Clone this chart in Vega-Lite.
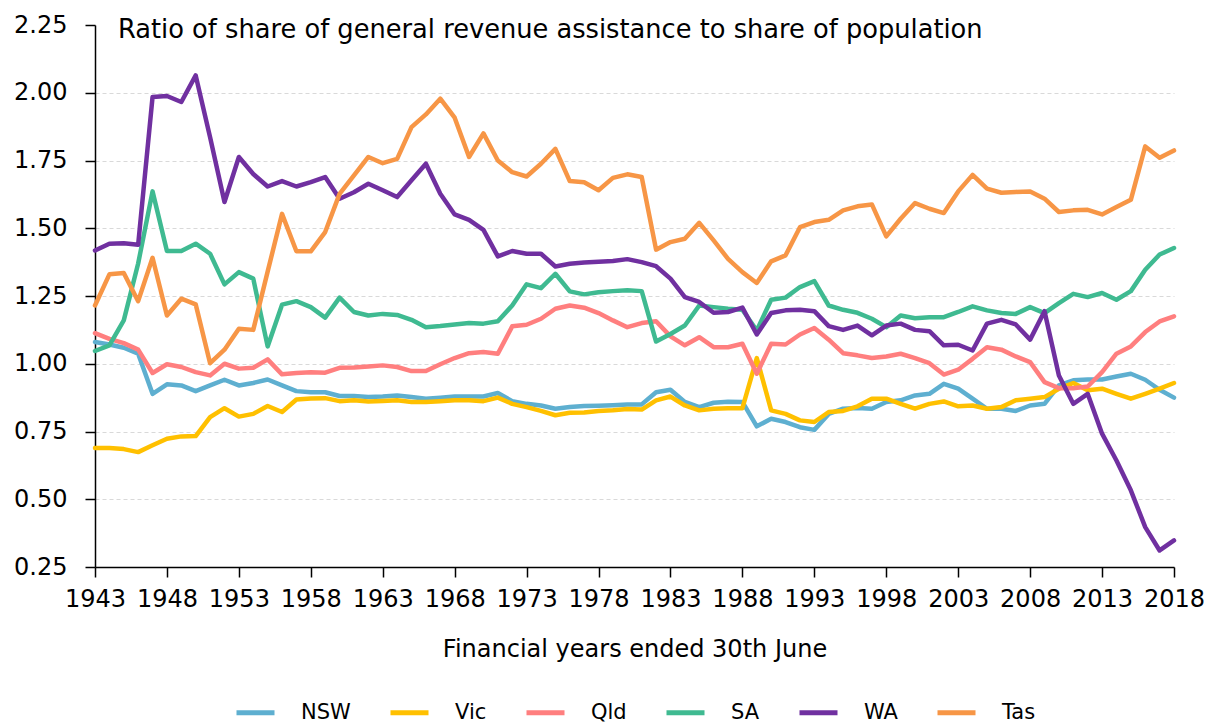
{
  "$schema": "https://vega.github.io/schema/vega-lite/v6.json",
  "width": 1079,
  "height": 542,
  "autosize": "none",
  "padding": {"left": 95, "top": 25, "right": 34, "bottom": 158},
  "background": "white",
  "title": {
    "text": "Ratio of share of general revenue assistance to share of population",
    "anchor": "start",
    "frame": "group",
    "orient": "top",
    "offset": -31,
    "dx": 23,
    "baseline": "top",
    "fontSize": 25.7,
    "fontWeight": "normal",
    "font": "DejaVu Sans",
    "color": "#000000"
  },
  "config": {
    "view": {"stroke": null},
    "font": "DejaVu Sans",
    "axis": {"labelFont": "DejaVu Sans", "titleFont": "DejaVu Sans"},
    "legend": {"labelFont": "DejaVu Sans", "layout": {"bottom": {"anchor": "middle"}}}
  },
  "data": {
    "values": [
      {"year":1943,"NSW":1.08,"Vic":0.689,"Qld":1.113,"SA":1.047,"WA":1.418,"Tas":1.215},
      {"year":1944,"NSW":1.071,"Vic":0.689,"Qld":1.092,"SA":1.068,"WA":1.443,"Tas":1.33},
      {"year":1945,"NSW":1.059,"Vic":0.685,"Qld":1.076,"SA":1.16,"WA":1.445,"Tas":1.335},
      {"year":1946,"NSW":1.037,"Vic":0.674,"Qld":1.052,"SA":1.37,"WA":1.439,"Tas":1.231},
      {"year":1947,"NSW":0.889,"Vic":0.699,"Qld":0.966,"SA":1.636,"WA":1.984,"Tas":1.391},
      {"year":1948,"NSW":0.924,"Vic":0.723,"Qld":0.998,"SA":1.416,"WA":1.988,"Tas":1.178},
      {"year":1949,"NSW":0.92,"Vic":0.732,"Qld":0.988,"SA":1.416,"WA":1.966,"Tas":1.24},
      {"year":1950,"NSW":0.899,"Vic":0.733,"Qld":0.969,"SA":1.443,"WA":2.064,"Tas":1.219},
      {"year":1951,"NSW":0.92,"Vic":0.803,"Qld":0.957,"SA":1.406,"WA":1.836,"Tas":1.002},
      {"year":1952,"NSW":0.941,"Vic":0.836,"Qld":1.0,"SA":1.293,"WA":1.597,"Tas":1.052},
      {"year":1953,"NSW":0.92,"Vic":0.805,"Qld":0.982,"SA":1.338,"WA":1.763,"Tas":1.129},
      {"year":1954,"NSW":0.929,"Vic":0.815,"Qld":0.985,"SA":1.314,"WA":1.7,"Tas":1.125},
      {"year":1955,"NSW":0.942,"Vic":0.844,"Qld":1.016,"SA":1.064,"WA":1.654,"Tas":1.34},
      {"year":1956,"NSW":0.92,"Vic":0.822,"Qld":0.961,"SA":1.218,"WA":1.674,"Tas":1.553},
      {"year":1957,"NSW":0.899,"Vic":0.868,"Qld":0.966,"SA":1.231,"WA":1.654,"Tas":1.415},
      {"year":1958,"NSW":0.895,"Vic":0.872,"Qld":0.969,"SA":1.209,"WA":1.67,"Tas":1.415},
      {"year":1959,"NSW":0.895,"Vic":0.873,"Qld":0.967,"SA":1.17,"WA":1.689,"Tas":1.486},
      {"year":1960,"NSW":0.881,"Vic":0.862,"Qld":0.985,"SA":1.244,"WA":1.609,"Tas":1.627},
      {"year":1961,"NSW":0.881,"Vic":0.865,"Qld":0.986,"SA":1.191,"WA":1.633,"Tas":1.695},
      {"year":1962,"NSW":0.877,"Vic":0.861,"Qld":0.99,"SA":1.178,"WA":1.664,"Tas":1.763},
      {"year":1963,"NSW":0.879,"Vic":0.863,"Qld":0.994,"SA":1.184,"WA":1.64,"Tas":1.74},
      {"year":1964,"NSW":0.883,"Vic":0.865,"Qld":0.988,"SA":1.18,"WA":1.615,"Tas":1.756},
      {"year":1965,"NSW":0.877,"Vic":0.859,"Qld":0.973,"SA":1.162,"WA":1.677,"Tas":1.873},
      {"year":1966,"NSW":0.871,"Vic":0.859,"Qld":0.973,"SA":1.135,"WA":1.738,"Tas":1.92},
      {"year":1967,"NSW":0.875,"Vic":0.862,"Qld":0.998,"SA":1.139,"WA":1.627,"Tas":1.978},
      {"year":1968,"NSW":0.879,"Vic":0.865,"Qld":1.021,"SA":1.145,"WA":1.551,"Tas":1.908},
      {"year":1969,"NSW":0.879,"Vic":0.865,"Qld":1.039,"SA":1.15,"WA":1.531,"Tas":1.763},
      {"year":1970,"NSW":0.879,"Vic":0.862,"Qld":1.043,"SA":1.148,"WA":1.494,"Tas":1.85},
      {"year":1971,"NSW":0.892,"Vic":0.875,"Qld":1.037,"SA":1.157,"WA":1.396,"Tas":1.75},
      {"year":1972,"NSW":0.862,"Vic":0.852,"Qld":1.138,"SA":1.215,"WA":1.416,"Tas":1.707},
      {"year":1973,"NSW":0.852,"Vic":0.84,"Qld":1.144,"SA":1.293,"WA":1.406,"Tas":1.691},
      {"year":1974,"NSW":0.846,"Vic":0.826,"Qld":1.166,"SA":1.279,"WA":1.406,"Tas":1.738},
      {"year":1975,"NSW":0.834,"Vic":0.81,"Qld":1.203,"SA":1.332,"WA":1.359,"Tas":1.793},
      {"year":1976,"NSW":0.84,"Vic":0.819,"Qld":1.215,"SA":1.267,"WA":1.369,"Tas":1.674},
      {"year":1977,"NSW":0.844,"Vic":0.82,"Qld":1.207,"SA":1.256,"WA":1.374,"Tas":1.67},
      {"year":1978,"NSW":0.845,"Vic":0.826,"Qld":1.187,"SA":1.264,"WA":1.376,"Tas":1.64},
      {"year":1979,"NSW":0.847,"Vic":0.828,"Qld":1.16,"SA":1.268,"WA":1.379,"Tas":1.686},
      {"year":1980,"NSW":0.85,"Vic":0.833,"Qld":1.135,"SA":1.271,"WA":1.386,"Tas":1.699},
      {"year":1981,"NSW":0.85,"Vic":0.831,"Qld":1.15,"SA":1.268,"WA":1.375,"Tas":1.689},
      {"year":1982,"NSW":0.895,"Vic":0.865,"Qld":1.157,"SA":1.082,"WA":1.36,"Tas":1.421},
      {"year":1983,"NSW":0.904,"Vic":0.879,"Qld":1.101,"SA":1.11,"WA":1.314,"Tas":1.449},
      {"year":1984,"NSW":0.859,"Vic":0.846,"Qld":1.068,"SA":1.141,"WA":1.246,"Tas":1.461},
      {"year":1985,"NSW":0.84,"Vic":0.828,"Qld":1.098,"SA":1.215,"WA":1.228,"Tas":1.52},
      {"year":1986,"NSW":0.856,"Vic":0.834,"Qld":1.061,"SA":1.209,"WA":1.188,"Tas":1.455},
      {"year":1987,"NSW":0.86,"Vic":0.836,"Qld":1.061,"SA":1.203,"WA":1.191,"Tas":1.387},
      {"year":1988,"NSW":0.859,"Vic":0.836,"Qld":1.074,"SA":1.199,"WA":1.207,"Tas":1.338},
      {"year":1989,"NSW":0.769,"Vic":1.021,"Qld":0.963,"SA":1.123,"WA":1.108,"Tas":1.298},
      {"year":1990,"NSW":0.797,"Vic":0.828,"Qld":1.074,"SA":1.236,"WA":1.187,"Tas":1.378},
      {"year":1991,"NSW":0.785,"Vic":0.815,"Qld":1.071,"SA":1.244,"WA":1.197,"Tas":1.4},
      {"year":1992,"NSW":0.766,"Vic":0.791,"Qld":1.108,"SA":1.283,"WA":1.199,"Tas":1.504},
      {"year":1993,"NSW":0.756,"Vic":0.785,"Qld":1.132,"SA":1.305,"WA":1.194,"Tas":1.523},
      {"year":1994,"NSW":0.815,"Vic":0.822,"Qld":1.089,"SA":1.215,"WA":1.139,"Tas":1.531},
      {"year":1995,"NSW":0.834,"Vic":0.826,"Qld":1.039,"SA":1.199,"WA":1.125,"Tas":1.566},
      {"year":1996,"NSW":0.837,"Vic":0.843,"Qld":1.031,"SA":1.188,"WA":1.141,"Tas":1.581},
      {"year":1997,"NSW":0.834,"Vic":0.871,"Qld":1.021,"SA":1.166,"WA":1.105,"Tas":1.588},
      {"year":1998,"NSW":0.859,"Vic":0.871,"Qld":1.027,"SA":1.135,"WA":1.141,"Tas":1.47},
      {"year":1999,"NSW":0.865,"Vic":0.852,"Qld":1.037,"SA":1.178,"WA":1.148,"Tas":1.535},
      {"year":2000,"NSW":0.883,"Vic":0.834,"Qld":1.021,"SA":1.168,"WA":1.125,"Tas":1.593},
      {"year":2001,"NSW":0.889,"Vic":0.852,"Qld":1.002,"SA":1.172,"WA":1.12,"Tas":1.572},
      {"year":2002,"NSW":0.926,"Vic":0.861,"Qld":0.96,"SA":1.172,"WA":1.068,"Tas":1.556},
      {"year":2003,"NSW":0.908,"Vic":0.843,"Qld":0.978,"SA":1.191,"WA":1.07,"Tas":1.636},
      {"year":2004,"NSW":0.871,"Vic":0.846,"Qld":1.018,"SA":1.212,"WA":1.049,"Tas":1.697},
      {"year":2005,"NSW":0.834,"Vic":0.834,"Qld":1.061,"SA":1.197,"WA":1.148,"Tas":1.646},
      {"year":2006,"NSW":0.834,"Vic":0.84,"Qld":1.052,"SA":1.187,"WA":1.162,"Tas":1.631},
      {"year":2007,"NSW":0.826,"Vic":0.865,"Qld":1.027,"SA":1.184,"WA":1.145,"Tas":1.634},
      {"year":2008,"NSW":0.846,"Vic":0.871,"Qld":1.006,"SA":1.209,"WA":1.089,"Tas":1.636},
      {"year":2009,"NSW":0.852,"Vic":0.877,"Qld":0.932,"SA":1.187,"WA":1.194,"Tas":1.609},
      {"year":2010,"NSW":0.92,"Vic":0.908,"Qld":0.91,"SA":1.224,"WA":0.957,"Tas":1.56},
      {"year":2011,"NSW":0.939,"Vic":0.929,"Qld":0.91,"SA":1.258,"WA":0.852,"Tas":1.566},
      {"year":2012,"NSW":0.942,"Vic":0.902,"Qld":0.916,"SA":1.246,"WA":0.889,"Tas":1.568},
      {"year":2013,"NSW":0.942,"Vic":0.908,"Qld":0.969,"SA":1.261,"WA":0.742,"Tas":1.551},
      {"year":2014,"NSW":0.953,"Vic":0.889,"Qld":1.037,"SA":1.236,"WA":0.643,"Tas":1.578},
      {"year":2015,"NSW":0.963,"Vic":0.871,"Qld":1.064,"SA":1.268,"WA":0.533,"Tas":1.605},
      {"year":2016,"NSW":0.941,"Vic":0.889,"Qld":1.117,"SA":1.347,"WA":0.397,"Tas":1.802},
      {"year":2017,"NSW":0.904,"Vic":0.908,"Qld":1.156,"SA":1.403,"WA":0.311,"Tas":1.76},
      {"year":2018,"NSW":0.875,"Vic":0.929,"Qld":1.175,"SA":1.427,"WA":0.348,"Tas":1.787}
    ]
  },
  "transform": [
    {"fold": ["NSW", "Vic", "Qld", "SA", "WA", "Tas"], "as": ["state", "value"]}
  ],
  "mark": {"type": "line", "strokeWidth": 4.5, "strokeJoin": "round", "strokeCap": "round"},
  "encoding": {
    "x": {
      "field": "year",
      "type": "quantitative",
      "scale": {"domain": [1943, 2018], "nice": false, "zero": false},
      "axis": {
        "values": [1943,1948,1953,1958,1963,1968,1973,1978,1983,1988,1993,1998,2003,2008,2013,2018],
        "format": "d",
        "grid": false,
        "title": "Financial years ended 30th June",
        "titleFontSize": 24,
        "titleFontWeight": "normal",
        "titleColor": "#000000",
        "titlePadding": 26,
        "labelFontSize": 24,
        "labelColor": "#000000",
        "labelPadding": 10,
        "labelFlush": false,
        "labelOverlap": false,
        "domainColor": "#000000",
        "domainWidth": 1.5,
        "tickColor": "#000000",
        "tickWidth": 1.5,
        "tickSize": 10
      }
    },
    "y": {
      "field": "value",
      "type": "quantitative",
      "scale": {"domain": [0.25, 2.25], "nice": false, "zero": false},
      "axis": {
        "values": [0.25,0.5,0.75,1.0,1.25,1.5,1.75,2.0,2.25],
        "format": ".2f",
        "title": null,
        "grid": true,
        "gridColor": {"condition": {"test": "datum.value >= 2.2", "value": "transparent"}, "value": "#D9D9D9"},
        "gridDash": [4, 3],
        "gridWidth": 1.2,
        "labelFontSize": 24,
        "labelColor": "#000000",
        "labelPadding": 18,
        "domainColor": "#000000",
        "domainWidth": 1.5,
        "tickColor": "#000000",
        "tickWidth": 1.5,
        "tickSize": 10
      }
    },
    "color": {
      "field": "state",
      "type": "nominal",
      "sort": ["NSW", "Vic", "Qld", "SA", "WA", "Tas"],
      "scale": {
        "domain": ["NSW", "Vic", "Qld", "SA", "WA", "Tas"],
        "range": ["#5EAFD0", "#FFC000", "#FF7F7F", "#3FBA91", "#7030A0", "#F79646"]
      },
      "legend": {
        "title": null,
        "orient": "bottom",
        "direction": "horizontal",
        "symbolType": "stroke",
        "symbolSize": 1444,
        "symbolStrokeWidth": 5,
        "labelFontSize": 21,
        "labelColor": "#000000",
        "labelOffset": 24,
        "columnPadding": 29,
        "offset": 30
      }
    }
  }
}
